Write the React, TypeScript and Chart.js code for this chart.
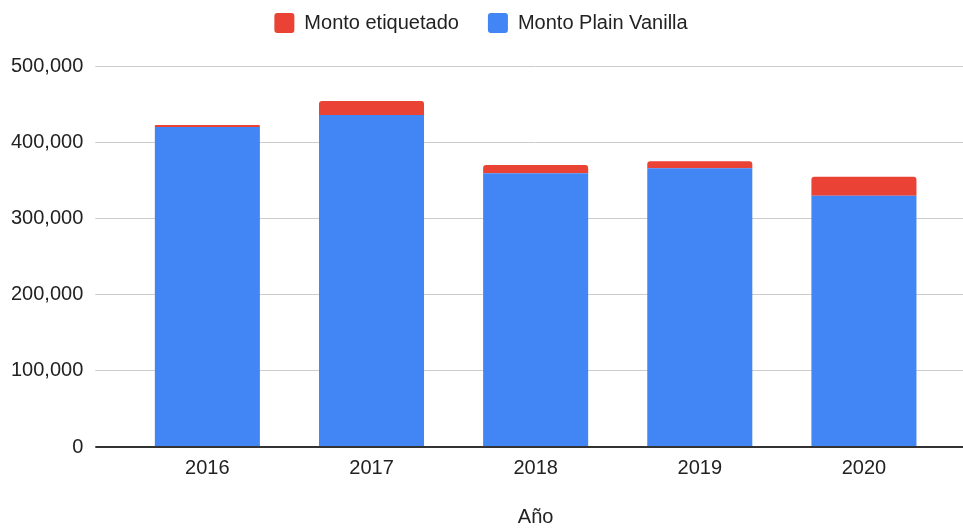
import React, { useEffect, useRef } from "react";
import { Chart, registerables } from "chart.js";

Chart.register(...registerables);

const years = ["2016", "2017", "2018", "2019", "2020"];
const plainVanilla = [420000, 435700, 359200, 365700, 329800];
const etiquetado = [2500, 18300, 10800, 9300, 24900];
const yTicks = [0, 100000, 200000, 300000, 400000, 500000];

const FONT = "'Liberation Sans', Arial, sans-serif";
const TEXT = "#222222";

const legendSpacing = {
  id: "legendSpacing",
  beforeLayout(chart: any) {
    const lg = chart.legend;
    if (lg && !lg.__patched) {
      const orig = lg.fit;
      lg.fit = function () {
        orig.call(this);
        this.height += 23;
      };
      lg.__patched = true;
    }
  },
};

export default function App() {
  const ref = useRef<HTMLCanvasElement | null>(null);

  useEffect(() => {
    if (!ref.current) return;
    const gridColor = (c: any) => (c.tick && c.tick.value === 0 ? "#333333" : "#cccccc");
    const gridWidth = (c: any) => (c.tick && c.tick.value === 0 ? 2 : 1);
    const chart = new Chart(ref.current, {
      type: "bar",
      plugins: [legendSpacing],
      data: {
        labels: years,
        datasets: [
          {
            label: "Monto Plain Vanilla",
            data: plainVanilla,
            backgroundColor: "#4285F4",
            borderWidth: 0,
            borderRadius: 0,
            categoryPercentage: 1,
            barPercentage: 0.64,
          },
          {
            label: "Monto etiquetado",
            data: etiquetado,
            backgroundColor: "#EA4335",
            borderWidth: 0,
            borderRadius: { topLeft: 3, topRight: 3, bottomLeft: 0, bottomRight: 0 },
            borderSkipped: false,
            categoryPercentage: 1,
            barPercentage: 0.64,
          },
        ],
      },
      options: {
        animation: false,
        responsive: true,
        maintainAspectRatio: false,
        layout: { padding: { top: -16, left: -1, right: 0, bottom: 0 } },
        plugins: {
          tooltip: { enabled: false },
          legend: {
            position: "top",
            reverse: true,
            labels: {
              boxWidth: 20,
              boxHeight: 20,
              padding: 29,
              useBorderRadius: true,
              borderRadius: 3,
              color: TEXT,
              font: { family: FONT, size: 20 },
            },
          },
        },
        scales: {
          x: {
            stacked: true,
            grid: { display: false, drawTicks: false },
            border: { display: true, color: "#333333", width: 2 },
            ticks: { color: TEXT, font: { family: FONT, size: 20 }, padding: 9 },
            title: {
              display: true,
              text: "Año",
              color: TEXT,
              font: { family: FONT, size: 20 },
              padding: { top: 16, bottom: 0 },
            },
          },
          y: {
            stacked: true,
            min: 0,
            max: 500000,
            afterBuildTicks: (s: any) => {
              s.ticks = yTicks.map((v) => ({ value: v }));
            },
            grid: {
              color: gridColor,
              lineWidth: gridWidth,
              drawTicks: true,
              tickLength: 30,
            },
            border: { display: false },
            ticks: {
              color: TEXT,
              font: { family: FONT, size: 20 },
              padding: 12,
              callback: (v: any) => Number(v).toLocaleString("en-US"),
            },
          },
          y2: {
            position: "right",
            min: 0,
            max: 500000,
            afterBuildTicks: (s: any) => {
              s.ticks = yTicks.map((v) => ({ value: v }));
            },
            grid: {
              color: gridColor,
              lineWidth: gridWidth,
              drawOnChartArea: false,
              drawTicks: true,
              tickLength: 17,
            },
            border: { display: false },
            ticks: { display: false },
          },
        },
      },
    });
    return () => chart.destroy();
  }, []);

  return (
    <div style={{ position: "fixed", left: 0, top: 0, width: 963, height: 529, background: "#fff" }}>
      <canvas ref={ref} />
    </div>
  );
}
